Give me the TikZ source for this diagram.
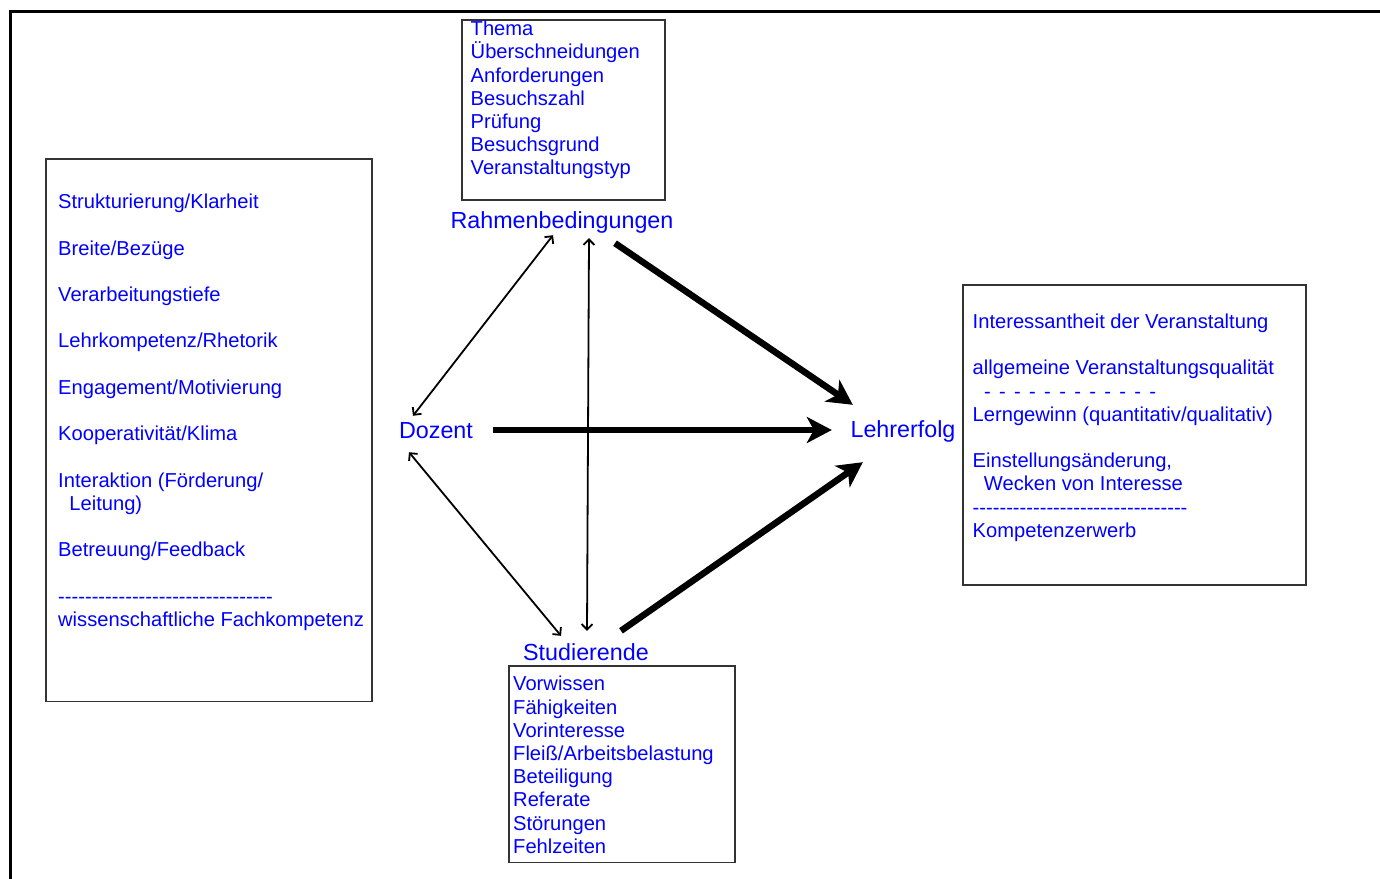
\documentclass[tikz,border=0pt]{standalone}
\usepackage{fontspec}
\setmainfont{Liberation Sans}
\usetikzlibrary{arrows.meta}
\definecolor{tblue}{RGB}{0,0,255}
\newcommand\hy{\mbox{-}}
\newcommand\hyrow{\hy\hy\hy\hy\hy\hy\hy\hy\hy\hy\hy\hy\hy\hy\hy\hy\hy\hy\hy\hy\hy\hy\hy\hy\hy\hy\hy\hy\hy\hy\hy\hy}
\newcommand\sd{\mbox{-}\hspace{8.3pt}}
\newcommand\dashrow{\hspace{11.5pt}\sd\sd\sd\sd\sd\sd\sd\sd\sd\sd\sd\mbox{-}}
\newcommand\rs{\vrule width 0pt height 18.4pt depth 4.8pt\relax}
\begin{document}
\begin{tikzpicture}[x=1pt,y=-1pt,
  lab/.style={text=tblue,font=\fontsize{23.3}{28}\selectfont,inner sep=0pt,text height=17pt,text depth=5pt,anchor=base},
  lst/.style={text=tblue,font=\fontsize{20.15}{23.2}\selectfont,inner sep=0pt,align=left,anchor=north west},
  framebox/.style={draw=black!80,line width=1.2pt,inner sep=0pt},
  dblarrow/.style={line width=1.8pt,{Straight Barb[length=5.5pt,width=11pt]}-{Straight Barb[length=5.5pt,width=11pt]}},
  bigarrow/.style={line width=6.5pt,-{Stealth[length=25pt,width=26pt,inset=7pt]}}]
\useasboundingbox (0,0) rectangle (1380,878);
% outer frame
\draw[line width=2.7pt,line join=miter] (10.3,890) -- (10.3,11.2) -- (1390,11.2);

% boxes
\node[framebox,minimum width=203pt,minimum height=180pt] (rbox) at (563.5,110) {};
\node[framebox,minimum width=326pt,minimum height=542.5pt] (lbox) at (209,430.25) {};
\node[framebox,minimum width=343pt,minimum height=300pt] (rtbox) at (1134.5,435) {};
\node[framebox,minimum width=226pt,minimum height=196.5pt] (sbox) at (622,764.25) {};

% lists
\node[lst] (rlist) at (470.5,17) {\rs Thema\\\rs Überschneidungen\\\rs Anforderungen\\\rs Besuchszahl\\\rs Prüfung\\\rs Besuchsgrund\\\rs Veranstaltungstyp};
\node[lst] (llist) at (58,190) {\rs Strukturierung/Klarheit\\\rs\\\rs Breite/Bezüge\\\rs\\\rs Verarbeitungstiefe\\\rs\\\rs Lehrkompetenz/Rhetorik\\\rs\\\rs Engagement/Motivierung\\\rs\\\rs Kooperativität/Klima\\\rs\\\rs Interaktion (Förderung/\\\rs\ \ Leitung)\\\rs\\\rs Betreuung/Feedback\\\rs\\\rs\hyrow\\\rs wissenschaftliche Fachkompetenz};
\node[lst] (rtlist) at (972.5,309.9) {\rs Interessantheit der Veranstaltung\\\rs\\\rs allgemeine Veranstaltungsqualität\\\rs\dashrow\\\rs Lerngewinn (quantitativ/qualitativ)\\\rs\\\rs Einstellungsänderung,\\\rs\ \ Wecken von Interesse\\\rs\hyrow\\\rs Kompetenzerwerb};
\node[lst] (slist) at (513,672.2) {\rs Vorwissen\\\rs Fähigkeiten\\\rs Vorinteresse\\\rs Fleiß/Arbeitsbelastung\\\rs Beteiligung\\\rs Referate\\\rs Störungen\\\rs Fehlzeiten};

% labels
\node[lab] (rahmen) at (562,228) {Rahmenbedingungen};
\node[lab] (dozent) at (436,438) {Dozent};
\node[lab] (stud) at (586,660.7) {Studierende};
\node[lab] (lehr) at (903,437) {Lehrerfolg};

% arrows
\draw[dblarrow] ([xshift=-9pt,yshift=-2pt]rahmen.south) -- ([xshift=-23pt,yshift=5pt]dozent.north);
\draw[dblarrow] ([xshift=27pt,yshift=-5pt]rahmen.south) -- ([xshift=1pt,yshift=12.7pt]stud.north);
\draw[dblarrow] ([xshift=-27pt,yshift=-9pt]dozent.south) -- ([xshift=-25pt,yshift=7.7pt]stud.north);
\draw[bigarrow] ([xshift=53pt,yshift=-10pt]rahmen.south) -- ([xshift=2.5pt,yshift=15pt]lehr.north west);
\draw[bigarrow] ([xshift=19.5pt,yshift=2pt]dozent.east) -- ([xshift=-18.5pt,yshift=1pt]lehr.west);
\draw[bigarrow] ([xshift=35pt,yshift=12.7pt]stud.north) -- ([xshift=12.5pt,yshift=-20pt]lehr.south west);
\end{tikzpicture}
\end{document}
